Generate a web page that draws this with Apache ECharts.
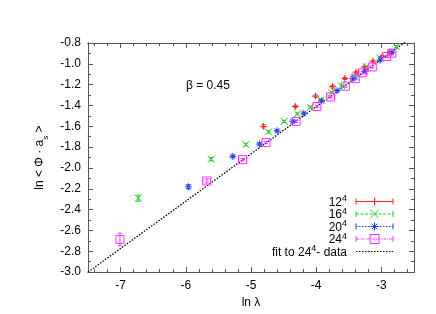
<!DOCTYPE html>
<html><head><meta charset="utf-8">
<script src="https://cdn.jsdelivr.net/npm/echarts@6/dist/echarts.min.js"></script>
<style>html,body{margin:0;padding:0;background:#fff}#c{width:436px;height:314px}</style>
</head><body><div id="c"></div>
<script>
// ---- data ----
const xLabels = [-7, -6, -5, -4, -3];
const yLabels = [-3.0, -2.8, -2.6, -2.4, -2.2, -2.0, -1.8, -1.6, -1.4, -1.2, -1.0, -0.8];

const x12 = [-4.81, -4.32, -4.01, -3.75, -3.56, -3.39, -3.26, -3.13, -2.99, -2.88];
const y12 = [-1.60, -1.41, -1.31, -1.22, -1.14, -1.08, -1.03, -0.975, -0.93, -0.89];
const e12 = [0.015, 0.012, 0.012, 0.012, 0.01, 0.01, 0.01, 0.01, 0.01, 0.01];

const x16 = [-6.73, -5.61, -5.08, -4.73, -4.49, -4.29, -4.09, -3.93, -3.76, -3.61, -3.40, -3.23, -3.02, -2.77];
const y16 = [-2.29, -1.915, -1.775, -1.653, -1.553, -1.48, -1.417, -1.348, -1.275, -1.212, -1.124, -1.03, -0.945, -0.835];
const e16 = [0.03, 0.015, 0.012, 0.01, 0.01, 0.01, 0.01, 0.01, 0.01, 0.01, 0.01, 0.01, 0.01, 0.01];

const x20 = [-5.96, -5.28, -4.87, -4.60, -4.36, -4.19, -3.92, -3.68, -3.44, -3.25, -3.02, -2.84];
const y20 = [-2.181, -1.889, -1.77, -1.643, -1.552, -1.475, -1.356, -1.258, -1.143, -1.07, -0.965, -0.89];
const e20 = [0.02, 0.012, 0.01, 0.01, 0.01, 0.01, 0.01, 0.01, 0.01, 0.01, 0.01, 0.01];

const x24 = [-7.01, -5.68, -5.13, -4.77, -4.31, -3.99, -3.78, -3.55, -3.40, -3.29, -3.14, -2.92, -2.84];
const y24 = [-2.686, -2.125, -1.92, -1.757, -1.553, -1.41, -1.318, -1.215, -1.143, -1.086, -1.03, -0.93, -0.897];
const e24 = [0.06, 0.02, 0.012, 0.01, 0.01, 0.01, 0.01, 0.01, 0.01, 0.01, 0.01, 0.01, 0.01];

const fitSlope = 0.454;
const fitIntercept = 0.405;
const fitRange = [-7.5, -2.5];

const seriesNames = ['12^4', '16^4', '20^4', '24^4'];
const fitName = 'fit to 24^4- data';
const annotation = 'β = 0.45';

// ---- chart ----
const FONT = '"Liberation Sans", Arial, sans-serif';
const colors = ['#ff2020', '#20d020', '#2040ff', '#ff30ff'];
const legendDash = [null, [3, 1.5], [1.5, 1.5], [2.5, 1, 1, 1]];
const symbolSegs = [
  [[[0, 5], [10, 5]], [[5, 0], [5, 10]]],
  [[[0, 0], [10, 10]], [[10, 0], [0, 10]]],
  [[[0, 5], [10, 5]], [[5, 0], [5, 10]], [[1.5, 1.5], [8.5, 8.5]], [[8.5, 1.5], [1.5, 8.5]]],
  [[[0, 0], [10, 0], [10, 10], [0, 10], [0, 0]]]
];
function segsToPath(segs) {
  return 'path://' + segs.map(s => s.map((p, i) => (i ? 'L' : 'M') + p[0] + ',' + p[1]).join('')).join('');
}
const symSizes = [7, 7, 7, 8];
const sets = [[x12, y12, e12], [x16, y16, e16], [x20, y20, e20], [x24, y24, e24]];

function zip(xs, ys, es) { return xs.map((x, i) => es ? [x, ys[i], es[i]] : [x, ys[i]]); }

const series = [];
sets.forEach((s, k) => {
  series.push({
    name: seriesNames[k], type: 'scatter', data: zip(s[0], s[1]),
    symbol: segsToPath(symbolSegs[k]), symbolSize: symSizes[k],
    itemStyle: { color: 'rgba(0,0,0,0)', borderColor: colors[k], borderWidth: 1, opacity: 1 },
    emphasis: { disabled: true }, z: 3
  });
  series.push({
    type: 'custom', data: zip(s[0], s[1], s[2]), silent: true, z: 2,
    renderItem: function (params, api) {
      const x = api.value(0), y = api.value(1), e = api.value(2);
      const lo = api.coord([x, y - e]), hi = api.coord([x, y + e]);
      const st = { stroke: colors[k], lineWidth: 1 };
      return { type: 'group', children: [
        { type: 'line', shape: { x1: lo[0], y1: lo[1], x2: hi[0], y2: hi[1] }, style: st },
        { type: 'line', shape: { x1: lo[0] - 2, y1: lo[1], x2: lo[0] + 2, y2: lo[1] }, style: st },
        { type: 'line', shape: { x1: hi[0] - 2, y1: hi[1], x2: hi[0] + 2, y2: hi[1] }, style: st }
      ] };
    }
  });
});
series.push({
  name: fitName, type: 'line', showSymbol: false, symbol: 'none',
  data: fitRange.map(x => [x, fitIntercept + fitSlope * x]),
  lineStyle: { color: '#000', width: 1.3, type: [1.5, 1.5] }, z: 1, clip: true,
  emphasis: { disabled: true }
});

const minorX = [];
for (let v = -7.4; v < -2.5; v += 0.2) minorX.push(Math.round(v * 10) / 10);
const minorY = [];
for (let v = -2.9; v < -0.8; v += 0.2) minorY.push(Math.round(v * 10) / 10);

const axisLine = { show: true, lineStyle: { color: '#555', width: 1 } };
const xBase = { type: 'value', min: -7.5, max: -2.5, splitLine: { show: false }, axisLine: axisLine };
const yBase = { type: 'value', min: -3.0, max: -0.8, splitLine: { show: false }, axisLine: axisLine };
const tickStyle = { color: '#555' };

const xAxes = [
  Object.assign({}, xBase, {
    position: 'bottom', name: 'ln λ', nameLocation: 'middle', nameGap: 21,
    nameTextStyle: { fontFamily: FONT, fontSize: 12, color: '#000' },
    axisLabel: { customValues: xLabels, fontFamily: FONT, fontSize: 12, color: '#000', margin: 8 },
    axisTick: { customValues: xLabels, inside: true, length: 5, lineStyle: tickStyle }
  }),
  Object.assign({}, xBase, { position: 'bottom', axisLabel: { show: false },
    axisTick: { customValues: minorX, inside: true, length: 3, lineStyle: tickStyle } }),
  Object.assign({}, xBase, { position: 'top', axisLabel: { show: false },
    axisTick: { customValues: xLabels, inside: true, length: 5, lineStyle: tickStyle } }),
  Object.assign({}, xBase, { position: 'top', axisLabel: { show: false },
    axisTick: { customValues: minorX, inside: true, length: 3, lineStyle: tickStyle } })
];
const yAxes = [
  Object.assign({}, yBase, {
    position: 'left',
    name: 'ln < Φ · a{s|s} >', nameLocation: 'middle', nameGap: 33,
    nameTextStyle: { fontFamily: FONT, fontSize: 12, color: '#000', rich: { s: { fontSize: 8, verticalAlign: 'bottom', padding: [0, 0, -4, 0], fontFamily: FONT } } },
    axisLabel: { customValues: yLabels, fontFamily: FONT, fontSize: 12, color: '#000', margin: 7, formatter: v => v.toFixed(1) },
    axisTick: { customValues: yLabels, inside: true, length: 5, lineStyle: tickStyle }
  }),
  Object.assign({}, yBase, { position: 'left', axisLabel: { show: false },
    axisTick: { customValues: minorY, inside: true, length: 3, lineStyle: tickStyle } }),
  Object.assign({}, yBase, { position: 'right', axisLabel: { show: false },
    axisTick: { customValues: yLabels, inside: true, length: 5, lineStyle: tickStyle } }),
  Object.assign({}, yBase, { position: 'right', axisLabel: { show: false },
    axisTick: { customValues: minorY, inside: true, length: 3, lineStyle: tickStyle } })
];

// ---- hand-drawn legend (text left of sample, like gnuplot) ----
const legendRows = [201.5, 214, 226.5, 239, 251.5];
const textRight = 347, lineX1 = 356, lineX2 = 393, symX = 374.5;
const supRich = { sup: { fontSize: 9, verticalAlign: 'top', padding: [0, 0, 7, 0], fontFamily: FONT, fill: '#000' } };
const graphics = [{ type: 'text', x: 186, y: 86, style: { text: annotation, font: '12px ' + FONT, fill: '#000', verticalAlign: 'middle' } }];
const allNames = seriesNames.concat([fitName]);
allNames.forEach((n, k) => {
  const cy = legendRows[k];
  graphics.push({ type: 'text', x: textRight, y: cy + 1, style: {
    text: n.replace('^4', '{sup|4}'), font: '12px ' + FONT, fill: '#000',
    align: 'right', verticalAlign: 'middle', rich: supRich } });
  const col = k < 4 ? colors[k] : '#000';
  const ls = { stroke: col, lineWidth: k < 4 ? 1 : 1.2 };
  const dash = k < 4 ? legendDash[k] : [1.5, 1.5];
  if (dash) ls.lineDash = dash;
  graphics.push({ type: 'line', shape: { x1: lineX1, y1: cy, x2: lineX2, y2: cy }, style: ls });
  if (k < 4) {
    graphics.push({ type: 'line', shape: { x1: lineX1, y1: cy - 3, x2: lineX1, y2: cy + 3 }, style: { stroke: col, lineWidth: 1 } });
    graphics.push({ type: 'line', shape: { x1: lineX2, y1: cy - 3, x2: lineX2, y2: cy + 3 }, style: { stroke: col, lineWidth: 1 } });
    const sz = symSizes[k] + 1;
    symbolSegs[k].forEach(seg => {
      graphics.push({ type: 'polyline',
        shape: { points: seg.map(p => [symX - sz / 2 + p[0] * sz / 10, cy - sz / 2 + p[1] * sz / 10]) },
        style: { fill: null, stroke: col, lineWidth: 1 } });
    });
  }
});

const chart = echarts.init(document.getElementById('c'), null, { renderer: 'canvas' });
chart.setOption({
  animation: false,
  backgroundColor: '#fff',
  grid: { left: 88, right: 22, top: 43, bottom: 38 },
  xAxis: xAxes,
  yAxis: yAxes,
  graphic: graphics,
  series: series
});
</script></body></html>
